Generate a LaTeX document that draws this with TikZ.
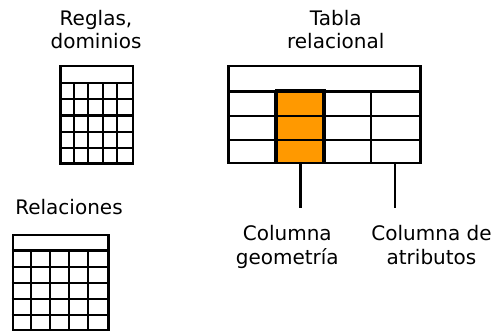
\documentclass[tikz,border=0pt]{standalone}
\usepackage{fontspec}
\setmainfont{DejaVu Sans}
\usepackage{tikz}
\usetikzlibrary{positioning,calc}
\definecolor{geomorange}{RGB}{255,153,0}
\tikzset{
  %% Table frames
  tabframe/.style={
    rectangle, draw=black, line width=2.2pt,
    inner sep=0pt, anchor=north west},
  %% Geometry column
  geombox/.style={
    rectangle, draw=black, fill=geomorange,
    line width=2.2pt, inner sep=0pt, anchor=south west},
  %% Cell lines
  gridline/.style={line width=2.2pt, black},
  %% Text labels
  lbl/.style={
    align=center, inner sep=0pt, anchor=base,
    font=\fontsize{20}{23.4}\selectfont},
  %% Leader lines
  leader/.style={line width=2.2pt, black, shorten >=18pt},
}
\begin{document}
\begin{tikzpicture}[x=1pt,y=1pt]
  \useasboundingbox (0,0) rectangle (497,330);

  %% Rules and domains
  \node[lbl] (lblreglas) at (96,281.5) {Reglas,\\dominios};
  \node[tabframe, minimum width=72.4pt, minimum height=97pt]
        (reglas) at (59.3,264.7) {};
  \foreach \i in {1,...,5}
    \draw[gridline] ($(reglas.south west)+(0,\i*16.32)$) -- ++(72.4,0);
  \foreach \j in {1,...,4}
    \draw[gridline] ($(reglas.south west)+(\j*14.48,0)$) -- ++(0,81.6);

  %% Relations
  \node[lbl] (lblrel) at (69,115.7) {Relaciones};
  \node[tabframe, minimum width=95.6pt, minimum height=95.3pt]
        (relac) at (11.7,96) {};
  \foreach \i in {1,...,5}
    \draw[gridline] ($(relac.south west)+(0,\i*16.2)$) -- ++(95.6,0);
  \foreach \j in {1,...,4}
    \draw[gridline] ($(relac.south west)+(\j*19.12,0)$) -- ++(0,81);

  %% Relational table
  \node[lbl] (lbltabla) at (335.7,281) {Tabla\\relacional};
  \node[tabframe, minimum width=192pt, minimum height=96.7pt]
        (tabla) at (227.3,265) {};
  \node[geombox, minimum width=48pt, minimum height=72.4pt]
        (geomcol) at ($(tabla.south west)+(48,0)$) {};
  \foreach \i in {1,...,3}
    \draw[gridline] ($(tabla.south west)+(0,\i*24.13)$) -- ++(192,0);
  \foreach \j in {1,...,3}
    \draw[gridline] ($(tabla.south west)+(\j*48,0)$) -- ++(0,72.4);
  \coordinate (attcol) at ($(tabla.south west)+(168,0)$);

  %% Column labels
  \node[lbl] (lblgeom) at (287.3,65.7) {Columna\\geometría};
  \node[lbl] (lblattr) at (431.5,65.7) {Columna de\\atributos};
  \draw[leader] (geomcol.south) -- (geomcol.south |- lblgeom.north);
  \draw[leader] (attcol) -- (attcol |- lblattr.north);

\end{tikzpicture}
\end{document}
